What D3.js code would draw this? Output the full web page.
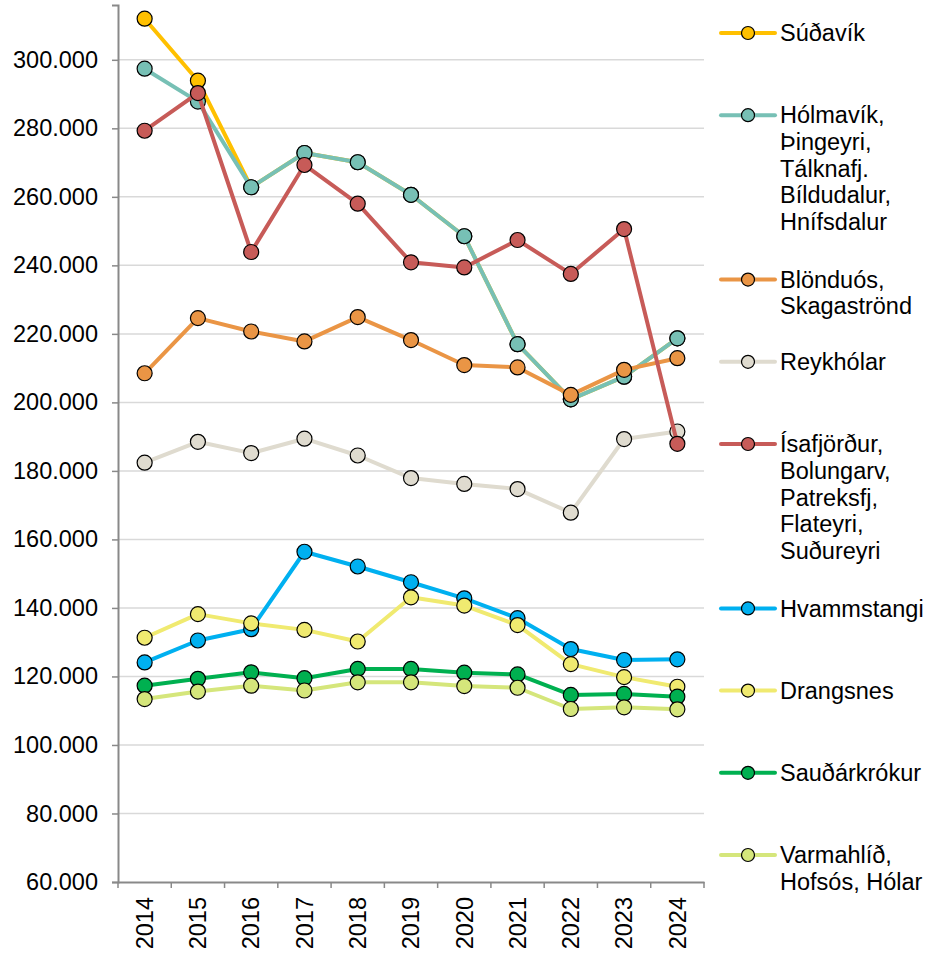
<!DOCTYPE html>
<html>
<head>
<meta charset="utf-8">
<script src="https://cdn.jsdelivr.net/npm/d3@7"></script>
<style>
  body { margin: 0; background: #fff; }
  text { font-family: "Liberation Sans", Arial, sans-serif; fill: #000; }
</style>
</head>
<body>
<div id="chart"></div>
<script>
// data
const years = [2014, 2015, 2016, 2017, 2018, 2019, 2020, 2021, 2022, 2023, 2024];
const yTicks = [60000, 80000, 100000, 120000, 140000, 160000, 180000, 200000, 220000, 240000, 260000, 280000, 300000];

const sudavik = [312000, 293900, 262800, 272800, 270100, 260600, 248500, 217000, 200900, 207500, 218700];
const holmavik = [297400, 287800, 262800, 272800, 270100, 260600, 248500, 217000, 200900, 207500, 218700];
const blonduos = [208500, 224600, 220700, 217800, 224900, 218200, 210900, 210200, 202200, 209500, 212900];
const reykholar = [182400, 188500, 185200, 189400, 184500, 177900, 176200, 174700, 167800, 189300, 191500];
const isafjordur = [279300, 290300, 243900, 269300, 258000, 240900, 239400, 247400, 237500, 250600, 187900];
const hvammstangi = [124100, 130500, 133800, 156400, 152100, 147500, 142800, 137000, 128000, 124800, 125000];
const drangsnes = [131300, 138200, 135500, 133600, 130200, 143100, 140700, 135000, 123600, 119800, 117000];
const saudarkrokur = [117300, 119300, 121200, 119500, 122200, 122200, 121100, 120600, 114600, 114900, 114100];
const varmahlid = [113400, 115600, 117300, 115900, 118300, 118300, 117200, 116700, 110500, 111000, 110400];

const seriesNames = [
  ['Súðavík'],
  ['Hólmavík,', 'Þingeyri,', 'Tálknafj.', 'Bíldudalur,', 'Hnífsdalur'],
  ['Blönduós,', 'Skagaströnd'],
  ['Reykhólar'],
  ['Ísafjörður,', 'Bolungarv,', 'Patreksfj,', 'Flateyri,', 'Suðureyri'],
  ['Hvammstangi'],
  ['Drangsnes'],
  ['Sauðárkrókur'],
  ['Varmahlíð,', 'Hofsós, Hólar']
];
const seriesValues = [sudavik, holmavik, blonduos, reykholar, isafjordur, hvammstangi, drangsnes, saudarkrokur, varmahlid];
const colors = ['#FFC000', '#77C0B5', '#EA9545', '#DFDBCF', '#C75B58', '#00B0F0', '#F0EA70', '#00B050', '#D5E67B'];

const series = seriesNames.map((name, i) => ({
  name: name,
  color: colors[i],
  values: years.map((yr, j) => ({ year: yr, value: seriesValues[i][j] }))
}));

const width = 926;
const height = 957;
const margin = { top: 5, right: 222, bottom: 75, left: 118 };
const fontSize = '23.5px';

const svg = d3.select('#chart')
  .append('svg')
  .attr('width', width)
  .attr('height', height)
  .style('display', 'block');

const x = d3.scaleBand()
  .domain(years)
  .range([margin.left, width - margin.right])
  .padding(0);

const y = d3.scaleLinear()
  .domain([60000, 316000])
  .range([height - margin.bottom, margin.top]);

const fmt = d3.formatLocale({ decimal: ',', thousands: '.', grouping: [3], currency: ['', ''] }).format(',');

// gridlines
svg.append('g')
  .selectAll('line')
  .data(yTicks.slice(1))
  .enter()
  .append('line')
  .attr('x1', margin.left)
  .attr('x2', width - margin.right)
  .attr('y1', d => y(d))
  .attr('y2', d => y(d))
  .attr('stroke', '#D9D9D9')
  .attr('stroke-width', 1.5);

// y axis
const yAxis = svg.append('g')
  .attr('transform', `translate(${margin.left},0)`)
  .call(d3.axisLeft(y).tickValues(yTicks).tickFormat(fmt).tickSize(6).tickPadding(14));
yAxis.select('.domain').attr('stroke', '#898989').attr('stroke-width', 2);
yAxis.selectAll('.tick line').attr('stroke', '#898989').attr('stroke-width', 1.5);
yAxis.selectAll('.tick text')
  .style('font-size', fontSize)
  .style('font-family', '"Liberation Sans", Arial, sans-serif')
  .attr('fill', '#000');

// x axis
const xAxis = svg.append('g')
  .attr('transform', `translate(0,${y(60000)})`)
  .call(d3.axisBottom(x).tickSize(0).tickPadding(0));
xAxis.select('.domain').attr('stroke', '#898989').attr('stroke-width', 2);
xAxis.selectAll('.tick text')
  .attr('transform', 'rotate(-90)')
  .attr('x', -15)
  .attr('y', 0)
  .attr('dy', '0.35em')
  .style('text-anchor', 'end')
  .style('font-size', fontSize)
  .style('font-family', '"Liberation Sans", Arial, sans-serif')
  .attr('fill', '#000');

// tick marks between categories
xAxis.selectAll('.edge')
  .data(years.map(d => x(d)).concat([x(years[years.length - 1]) + x.bandwidth()]))
  .enter()
  .append('line')
  .attr('class', 'edge')
  .attr('x1', d => d)
  .attr('x2', d => d)
  .attr('y1', 0)
  .attr('y2', 6)
  .attr('stroke', '#898989')
  .attr('stroke-width', 1.5);

// lines and markers
const line = d3.line()
  .x(d => x(d.year) + x.bandwidth() / 2)
  .y(d => y(d.value));

const groups = svg.selectAll('.series')
  .data(series)
  .enter()
  .append('g')
  .attr('class', 'series');

groups.append('path')
  .attr('d', d => line(d.values))
  .attr('fill', 'none')
  .attr('stroke', d => d.color)
  .attr('stroke-width', 4)
  .attr('stroke-linejoin', 'round');

groups.selectAll('circle')
  .data(d => d.values.map(v => ({ ...v, color: d.color })))
  .enter()
  .append('circle')
  .attr('cx', d => x(d.year) + x.bandwidth() / 2)
  .attr('cy', d => y(d.value))
  .attr('r', 7.5)
  .attr('fill', d => d.color)
  .attr('stroke', '#000')
  .attr('stroke-width', 1.2);

// legend
const legend = svg.append('g').attr('transform', 'translate(721,0)');
let slot = 0;
series.forEach(s => {
  const cy = 33 + slot * 82.2;
  slot += s.name.length > 2 ? 2 : 1;
  const item = legend.append('g').attr('transform', `translate(0,${cy})`);
  item.append('line')
    .attr('x1', 0).attr('x2', 54)
    .attr('y1', 0).attr('y2', 0)
    .attr('stroke', s.color)
    .attr('stroke-width', 4)
    .attr('stroke-linecap', 'round');
  item.append('circle')
    .attr('cx', 27).attr('cy', 0).attr('r', 6.5)
    .attr('fill', s.color)
    .attr('stroke', '#000')
    .attr('stroke-width', 1.2);
  const t = item.append('text')
    .attr('x', 59)
    .attr('y', 0)
    .style('font-size', fontSize);
  s.name.forEach((ln, k) => {
    t.append('tspan')
      .attr('x', 59)
      .attr('dy', k === 0 ? '0.35em' : '1.135em')
      .text(ln);
  });
});
</script>
</body>
</html>
